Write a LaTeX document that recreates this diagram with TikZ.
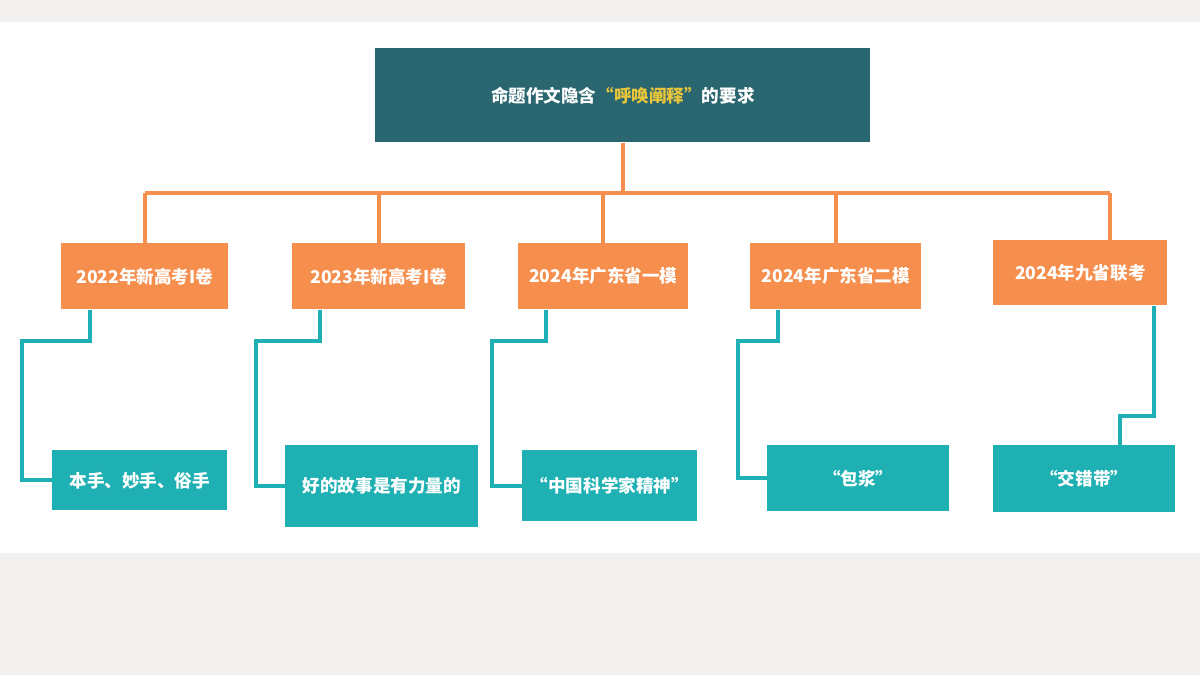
\documentclass[tikz,border=0pt]{standalone}
\usepackage{fontspec}
\setmainfont{Noto Sans CJK SC}
\usetikzlibrary{positioning,calc}
\definecolor{topbox}{RGB}{42,102,112}
\definecolor{yearbox}{RGB}{246,143,78}
\definecolor{notebox}{RGB}{31,176,180}
\definecolor{hilite}{RGB}{232,197,58}
\definecolor{paper}{RGB}{243,241,239}

\begin{document}
\begin{tikzpicture}[
    x=0.02cm, y=-0.02cm,
    font=\fontsize{10pt}{12pt}\selectfont\bfseries,
    yearnode/.style={fill=yearbox, text=white, anchor=north west, minimum height=1.32cm, inner sep=0pt},
    notenode/.style={fill=notebox, text=white, anchor=north west, inner sep=0pt},
    oline/.style={yearbox, line width=2.3pt},
    tline/.style={notebox, line width=2.3pt},
]

% ===== background =====
\fill[paper] (0,0) rectangle (1200,675);
\fill[white] (0,22) rectangle (1200,553);
\useasboundingbox (0,0) rectangle (1200,675);

% ===== title =====
\node[fill=topbox, text=white, anchor=north west, minimum width=9.9cm, minimum height=1.88cm, inner sep=0pt]
    (top) at (375,48) {命题作文隐含\textcolor{hilite}{“呼唤阐释”}的要求};

% ===== years =====
\node[yearnode, minimum width=3.34cm] (o1) at (61,243) {2022年新高考I卷};
\node[yearnode, minimum width=3.46cm] (o2) at (292,243) {2023年新高考I卷};
\node[yearnode, minimum width=3.40cm] (o3) at (518,243) {2024年广东省一模};
\node[yearnode, minimum width=3.42cm] (o4) at (750,243) {2024年广东省二模};
\node[yearnode, minimum width=3.48cm, minimum height=1.30cm] (o5) at (993,240) {2024年九省联考};

% ===== notes =====
\node[notenode, minimum width=3.50cm, minimum height=1.20cm] (t1) at (52,450) {本手、妙手、俗手};
\node[notenode, minimum width=3.86cm, minimum height=1.64cm] (t2) at (285,445) {好的故事是有力量的};
\node[notenode, minimum width=3.50cm, minimum height=1.42cm] (t3) at (522,450) {“中国科学家精神”};
\node[notenode, minimum width=3.64cm, minimum height=1.32cm] (t4) at (767,445) {“包浆”};
\node[notenode, minimum width=3.64cm, minimum height=1.34cm] (t5) at (993,445) {“交错带”};

% ===== orange tree =====
\coordinate (bus) at ($(top.south)+(0,50)$);
\coordinate (drop5) at ($(o5.north)+(30,0)$);
\draw[oline] (top.south) -- (bus);
\draw[oline] (bus -| o1.north) -- (bus -| drop5);
\foreach \n in {o1,o2,o3,o4} {
    \draw[oline] (bus -| \n.north) -- (\n.north);
}
\draw[oline] (bus -| drop5) -- (drop5);

% ===== teal links =====
\draw[tline] ($(o1.south west)+(29,0)$) |- ++(-68,31) |- (t1.west);
\draw[tline] ($(o2.south west)+(28,0)$) |- ++(-64,31) |- (t2.west);
\draw[tline] ($(o3.south west)+(28,0)$) |- ++(-54,31) |- (t3.west);
\draw[tline] ($(o4.south west)+(28,0)$) |- ++(-40,31) |- (t4.west);
\draw[tline] ($(o5.south east)+(-14,0)$) -- ++(0,110) -| ($(t5.north west)+(127,0)$);

\end{tikzpicture}
\end{document}
